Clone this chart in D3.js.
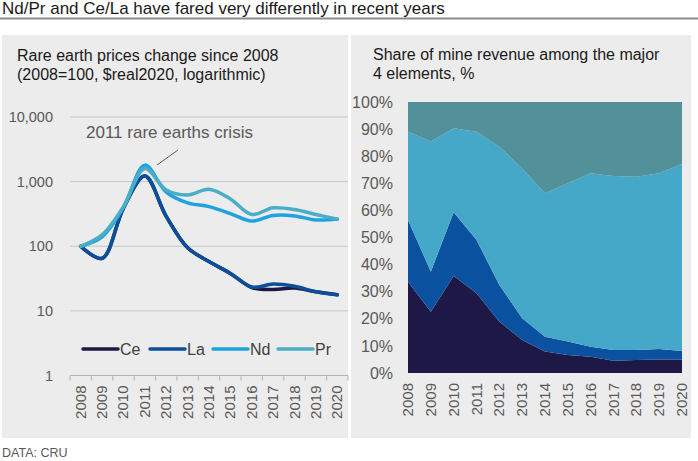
<!DOCTYPE html>
<html>
<head>
<meta charset="utf-8">
<script src="https://cdn.jsdelivr.net/npm/d3@7"></script>
<style>
    body { margin: 0; background: #fff; }
    svg { display: block; font-family: Arial, "Liberation Sans", sans-serif; }
</style>
</head>
<body>
<div id="graph"></div>
<script>
'use strict';

let years = ['2008','2009','2010','2011','2012','2013','2014','2015','2016','2017','2018','2019','2020'];
let elements = ['Ce', 'La', 'Nd', 'Pr'];

// price index, 2008=100
let cePrice = [100, 65, 390, 1220, 290, 95, 58, 38, 23, 21.5, 22.5, 19.8, 17.8];
let laPrice = [100, 65, 390, 1220, 290, 95, 58, 38, 23.4, 26, 24, 19.8, 17.8];
let ndPrice = [100, 140, 400, 1800, 690, 470, 410, 320, 245, 300, 295, 255, 263];
let prPrice = [100, 150, 410, 1600, 740, 620, 760, 540, 310, 393, 370, 310, 263];

// share of mine revenue, %
let ceShare = [33.7, 22.6, 35.8, 29.4, 18.9, 12.2, 7.9, 6.6, 6.0, 4.5, 4.8, 5.0, 5.0];
let laShare = [22.8, 14.8, 23.5, 19.7, 13.6, 8.0, 5.5, 5.0, 3.7, 4.0, 3.7, 3.9, 3.1];
let ndShare = [32.5, 48.0, 31.0, 39.9, 51.0, 55.3, 52.9, 58.4, 64.0, 64.2, 63.9, 64.8, 69.0];
let prShare = [11.0, 14.6, 9.7, 11.0, 16.5, 24.5, 33.7, 30.0, 26.3, 27.3, 27.6, 26.3, 22.9];

let logTicks = [1, 10, 100, 1000, 10000];
let pctTicks = [0, 10, 20, 30, 40, 50, 60, 70, 80, 90, 100];

let lineColors = {Ce: '#1d1847', La: '#0b4f9b', Nd: '#1ea3e0', Pr: '#4badc6'};
let areaColors = {Ce: '#1e1847', La: '#0a52a0', Nd: '#46a8c8', Pr: '#52909a'};

let w = 698, h = 461;
let svg = d3.select('#graph').append('svg').attr('width', w).attr('height', h);

// page title + rule
svg.append('text').attr('x', 2).attr('y', 14)
    .style('font-size', '17px').style('fill', '#1a1a1a')
    .text('Nd/Pr and Ce/La have fared very differently in recent years');
svg.append('line').attr('x1', 0).attr('x2', w).attr('y1', 18.5).attr('y2', 18.5)
    .style('stroke', '#8c8c8c').style('stroke-width', 2);

// panels
svg.append('rect').attr('x', 2).attr('y', 35).attr('width', 346).attr('height', 403).style('fill', '#ececec');
svg.append('rect').attr('x', 351).attr('y', 35).attr('width', 340).attr('height', 403).style('fill', '#ececec');

svg.append('text').attr('x', 2).attr('y', 457)
    .style('font-size', '12.5px').style('fill', '#595959').text('DATA: CRU');

// ---------- left: log line chart ----------
let left = svg.append('g');
let priceRows = {Ce: cePrice, La: laPrice, Nd: ndPrice, Pr: prPrice};

left.append('text').attr('x', 17).attr('y', 61).style('font-size', '16px').style('fill', '#1a1a1a')
    .text('Rare earth prices change since 2008');
left.append('text').attr('x', 17).attr('y', 80).style('font-size', '16px').style('fill', '#1a1a1a')
    .text('(2008=100, $real2020, logarithmic)');

let xBand = d3.scaleBand().domain(years).range([70, 348]).padding(0);
let yLog = d3.scaleLog().domain([1, 10000]).range([375.5, 117]);

//gridlines
left.selectAll('.grid').data(logTicks.slice(1)).enter().append('line')
    .attr('x1', 70).attr('x2', 348)
    .attr('y1', d => yLog(d)).attr('y2', d => yLog(d))
    .style('stroke', '#c6c6c6').style('stroke-width', 1);

let yAxisL = d3.axisLeft(yLog).tickValues(logTicks).tickFormat(d3.format(',')).tickSize(0).tickPadding(0);
left.append('g').attr('transform', 'translate(53,0)').call(yAxisL)
    .call(g => g.select('.domain').remove())
    .selectAll('text').style('font-size', '14.5px').style('fill', '#595959').style('font-family', 'Arial, "Liberation Sans", sans-serif');

// category axis, ticks between categories
let xAxisL = left.append('g').attr('transform', 'translate(0,' + yLog(1) + ')');
xAxisL.append('line').attr('x1', 70).attr('x2', 348).style('stroke', '#b3b3b3');
xAxisL.selectAll('.tick').data(years.concat(['end'])).enter().append('line')
    .attr('x1', (d, i) => 70 + i * xBand.step()).attr('x2', (d, i) => 70 + i * xBand.step())
    .attr('y1', 0).attr('y2', 5).style('stroke', '#b3b3b3');
xAxisL.selectAll('.lab').data(years).enter().append('text')
    .attr('transform', d => 'translate(' + (xBand(d) + xBand.bandwidth() / 2 + 5) + ',10)rotate(-90)')
    .attr('text-anchor', 'end')
    .style('font-size', '15px').style('fill', '#595959').text(d => d);

let priceLine = d3.line()
    .x((d, i) => xBand(years[i]) + xBand.bandwidth() / 2)
    .y(d => yLog(d))
    .curve(d3.curveCatmullRom.alpha(0.5));

left.selectAll('.price').data(elements).enter().append('path')
    .attr('d', k => priceLine(priceRows[k]))
    .style('fill', 'none').style('stroke', k => lineColors[k])
    .style('stroke-width', 3.5).style('stroke-linecap', 'round').style('stroke-linejoin', 'round');

// annotation
left.append('text').attr('x', 86).attr('y', 138).style('font-size', '17px').style('fill', '#595959')
    .text('2011 rare earths crisis');
left.append('line').attr('x1', 178).attr('y1', 150).attr('x2', 157).attr('y2', 165)
    .style('stroke', '#5c5c78').style('stroke-width', 1);

// legend
let legendX = [83, 150, 213, 278];
let legend = left.selectAll('.legend').data(elements).enter().append('g')
    .attr('transform', (d, i) => 'translate(' + legendX[i] + ',349)');
legend.append('line').attr('x1', 0).attr('x2', 35)
    .style('stroke', d => lineColors[d]).style('stroke-width', 3.5).style('stroke-linecap', 'round');
legend.append('text').attr('x', 37).attr('y', 5.5).style('font-size', '16px').style('fill', '#404040').text(d => d);

// ---------- right: stacked share area ----------
let right = svg.append('g');
right.append('text').attr('x', 373).attr('y', 60).style('font-size', '16px').style('fill', '#1a1a1a')
    .text('Share of mine revenue among the major');
right.append('text').attr('x', 373).attr('y', 79).style('font-size', '16px').style('fill', '#1a1a1a')
    .text('4 elements, %');

let shareRows = years.map((y, i) => ({year: y, Ce: ceShare[i], La: laShare[i], Nd: ndShare[i], Pr: prShare[i]}));
let stacked = d3.stack().keys(elements)(shareRows);

let xPoint = d3.scalePoint().domain(years).range([408, 682]);
let yPct = d3.scaleLinear().domain([0, 100]).range([373, 102]);

let area = d3.area()
    .x(d => xPoint(d.data.year))
    .y0(d => yPct(d[0]))
    .y1(d => yPct(d[1]));

right.selectAll('.share').data(stacked).enter().append('path')
    .attr('d', area).style('fill', d => areaColors[d.key]);

let yAxisR = d3.axisLeft(yPct).tickValues(pctTicks).tickFormat(d => d + '%').tickSize(0).tickPadding(0);
right.append('g').attr('transform', 'translate(393,0)').call(yAxisR)
    .call(g => g.select('.domain').remove())
    .selectAll('text').style('font-size', '16px').style('fill', '#595959').style('font-family', 'Arial, "Liberation Sans", sans-serif');

right.selectAll('.labR').data(years).enter().append('text')
    .attr('transform', d => 'translate(' + (xPoint(d) + 5) + ',383)rotate(-90)')
    .attr('text-anchor', 'end')
    .style('font-size', '15px').style('fill', '#595959').text(d => d);
</script>
</body>
</html>
